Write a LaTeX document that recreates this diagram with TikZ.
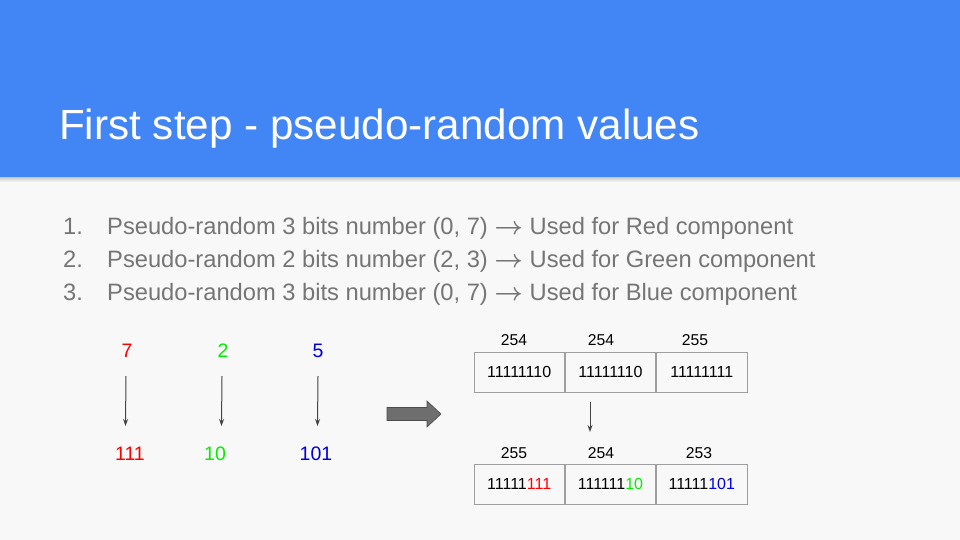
\documentclass[tikz,border=0pt]{standalone}
\usepackage{fontspec}
\setmainfont{Liberation Sans}
\usetikzlibrary{arrows.meta}
\definecolor{headblue}{HTML}{4285F4}
\definecolor{pagebg}{HTML}{F8F8F8}
\definecolor{listgrey}{HTML}{757575}
\definecolor{cellline}{HTML}{9E9E9E}
\definecolor{bitred}{HTML}{FF0000}
\definecolor{bitgreen}{HTML}{00EE00}
\definecolor{bitblue}{HTML}{0000DD}
\definecolor{bigarrow}{HTML}{6E6E6E}
\definecolor{arrowline}{HTML}{444444}
\newcommand{\toarrow}{\(\boldsymbol{\rightarrow}\)}
\usepackage{amsmath}
\begin{document}
\begin{tikzpicture}[x=1pt,y=-1pt,
  title/.style={anchor=base west,inner sep=0pt,text=white,font=\fontsize{42.2}{46}\selectfont},
  item/.style={anchor=base west,inner sep=0pt,text=listgrey,font=\fontsize{23.7}{26}\selectfont},
  value/.style={inner sep=0pt,font=\fontsize{19.5}{22}\selectfont},
  cellnum/.style={inner sep=0pt,font=\fontsize{15.7}{18}\selectfont},
  cell/.style={draw=cellline,line width=0.8pt,minimum width=90.5pt,minimum height=40pt,inner sep=0pt,font=\fontsize{16}{19}\selectfont},
  thin arrow/.style={draw=arrowline,line width=1pt,-{Stealth[length=7pt,width=5pt]}}]
\useasboundingbox (0,0) rectangle (960,540);
% page and header band
\fill[pagebg] (0,0) rectangle (960,540);
\shade[top color=black!25,bottom color=pagebg] (0,176) rectangle (960,182);
\fill[headblue] (0,0) rectangle (960,177);
\node[title] (head) at (59,140) {First step - pseudo-random values};

% numbered list
\node[item] (n1) at (63,234) {1.};
\node[item] (t1) at (107,234) {Pseudo-random 3 bits number (0, 7) \toarrow{} Used for Red component};
\node[item] (n2) at (63,267) {2.};
\node[item] (t2) at (107,267) {Pseudo-random 2 bits number (2, 3) \toarrow{} Used for Green component};
\node[item] (n3) at (63,300) {3.};
\node[item] (t3) at (107,300) {Pseudo-random 3 bits number (0, 7) \toarrow{} Used for Blue component};

% random values and their bits
\node[value,text=bitred] (r) at (127,351) {7};
\node[value,text=bitgreen] (g) at (223,351) {2};
\node[value,text=bitblue] (b) at (318,351) {5};
\node[value,text=bitred] (rb) at (130,454) {111};
\node[value,text=bitgreen] (gb) at (215,454) {10};
\node[value,text=bitblue] (bb) at (316,454) {101};
\coordinate (ra) at (126,376); \coordinate (rz) at (125.5,426);
\coordinate (ga) at (222,376); \coordinate (gz) at (221.5,426);
\coordinate (ba) at (318,376); \coordinate (bz) at (317.5,426);
\draw[thin arrow] (ra) -- (rz);
\draw[thin arrow] (ga) -- (gz);
\draw[thin arrow] (ba) -- (bz);

% block arrow
\filldraw[fill=bigarrow,draw=black!70,line width=0.6pt]
  (387,407.5) -- (427,407.5) -- (427,401) -- (441,414) -- (427,427) -- (427,420.5) -- (387,420.5) -- cycle;

% original colour bytes
\node[cell,anchor=north west] (c1) at (473.5,352) {11111110};
\node[cell,anchor=west] (c2) at (c1.east) {11111110};
\node[cell,anchor=west] (c3) at (c2.east) {11111111};
\node[cellnum] (l1) at (514,340) {254};
\node[cellnum] (l2) at (601,340) {254};
\node[cellnum] (l3) at (695,340) {255};

\coordinate (da) at (590,402); \coordinate (dz) at (590,432);
\draw[thin arrow] (da) -- (dz);

% colour bytes with the random bits
\node[cell,anchor=north west] (d1) at (473.5,464) {11111\textcolor{bitred}{111}};
\node[cell,anchor=west] (d2) at (d1.east) {111111\textcolor{bitgreen}{10}};
\node[cell,anchor=west] (d3) at (d2.east) {11111\textcolor{bitblue}{101}};
\node[cellnum] (m1) at (514,453) {255};
\node[cellnum] (m2) at (601,453) {254};
\node[cellnum] (m3) at (699,453) {253};
\end{tikzpicture}
\end{document}
